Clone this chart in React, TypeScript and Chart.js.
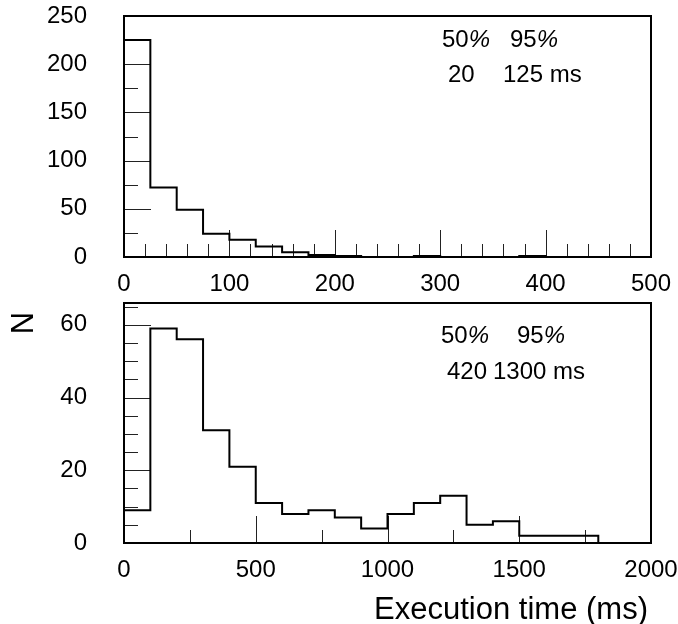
import { useEffect, useRef } from "react";
import { Chart, registerables } from "chart.js";

Chart.register(...registerables);

// ---- data ----
const topBinWidth = 25;
const topCounts = [225, 72, 49, 24, 18, 11, 5, 2, 1, 0, 0, 1, 0, 0, 0, 1, 0, 0, 0, 0];
const bottomBinWidth = 100;
const bottomCounts = [9, 59, 56, 31, 21, 11, 8, 9, 7, 4, 8, 11, 13, 5, 6, 2, 2, 2, 0, 0];

const topXTicks = [0, 100, 200, 300, 400, 500];
const topYTicks = [0, 50, 100, 150, 200, 250];
const bottomXTicks = [0, 500, 1000, 1500, 2000];
const bottomYTicks = [0, 20, 40, 60];

const quantileHeaders = ["50", "95"];
const topQuantiles = ["20", "125 ms"];
const bottomQuantiles = ["420", "1300 ms"];

const xTitle = "Execution time (ms)";
const yTitle = "N";

const FAMILY = "'Liberation Sans', Arial, Helvetica, sans-serif";
const tickFont = { family: FAMILY, size: 24 };

function histPoints(counts: number[], w: number) {
  const pts: { x: number; y: number }[] = [{ x: 0, y: 0 }];
  counts.forEach((c, i) => pts.push({ x: i * w, y: c }));
  pts.push({ x: counts.length * w, y: 0 });
  return pts;
}

type PanelCfg = {
  xMinor: number;
  xMajor: number;
  yMinor: number;
  yMajor: number;
  headers: string[];
  values: string[];
  hx: number[];
  vx: number[];
  hy: number;
  vy: number;
  extra?: (chart: any) => void;
};

function drawPercent(ctx: CanvasRenderingContext2D, x: number, y: number, num: string) {
  ctx.font = `24px ${FAMILY}`;
  ctx.fillText(num, x, y);
  const w = ctx.measureText(num).width;
  ctx.font = `italic 24px ${FAMILY}`;
  ctx.fillText("%", x + w, y);
}

function panelPlugin(cfg: PanelCfg) {
  return {
    id: "panel",
    beforeDatasetsDraw(chart: any) {
      const { ctx, chartArea: a, scales } = chart;
      const x = scales.x;
      const y = scales.y;
      ctx.save();
      ctx.strokeStyle = "#222";
      ctx.lineWidth = 1;
      const nx = Math.round((x.max - x.min) / cfg.xMinor);
      for (let i = 1; i < nx; i++) {
        const v = x.min + i * cfg.xMinor;
        const major = Math.abs(v / cfg.xMajor - Math.round(v / cfg.xMajor)) < 1e-6;
        const px = Math.round(x.getPixelForValue(v)) + 0.5;
        const len = major ? 27 : 13;
        ctx.beginPath();
        ctx.moveTo(px, a.bottom);
        ctx.lineTo(px, a.bottom - len);
        ctx.stroke();
      }
      const ny = Math.floor((y.max - y.min) / cfg.yMinor + 1e-6);
      for (let i = 1; i <= ny; i++) {
        const v = y.min + i * cfg.yMinor;
        if (v >= y.max - 1e-6) continue;
        const major = Math.abs(v / cfg.yMajor - Math.round(v / cfg.yMajor)) < 1e-6;
        const py = Math.round(y.getPixelForValue(v)) + 0.5;
        const len = major ? 27 : 14;
        ctx.beginPath();
        ctx.moveTo(a.left, py);
        ctx.lineTo(a.left + len, py);
        ctx.stroke();
      }
      ctx.restore();
    },
    afterDatasetsDraw(chart: any) {
      const { ctx, chartArea: a } = chart;
      ctx.save();
      ctx.strokeStyle = "#000";
      ctx.lineWidth = 2;
      ctx.strokeRect(a.left, a.top, a.right - a.left, a.bottom - a.top);
      ctx.fillStyle = "#000";
      ctx.textAlign = "left";
      ctx.textBaseline = "alphabetic";
      cfg.headers.forEach((h, i) => drawPercent(ctx, a.left + cfg.hx[i], a.top + cfg.hy, h));
      ctx.font = `24px ${FAMILY}`;
      cfg.values.forEach((v, i) => ctx.fillText(v, a.left + cfg.vx[i], a.top + cfg.vy));
      if (cfg.extra) cfg.extra(chart);
      ctx.restore();
    },
  };
}

function fixedTicks(values: number[]) {
  return (scale: any) => {
    scale.ticks = values.map((v) => ({ value: v }));
  };
}

function zeroPad(s: any) {
  s.paddingTop = 0;
  s.paddingBottom = 0;
  s.paddingLeft = 0;
  s.paddingRight = 0;
}

function makeChart(
  canvas: HTMLCanvasElement,
  counts: number[],
  binWidth: number,
  xMax: number,
  yMax: number,
  xTicks: number[],
  yTicks: number[],
  padTop: number,
  xAxisHeight: number,
  cfg: PanelCfg
) {
  return new Chart(canvas, {
    type: "line",
    data: {
      datasets: [
        {
          data: histPoints(counts, binWidth),
          stepped: "before",
          borderColor: "#000",
          borderWidth: 2,
          pointRadius: 0,
          fill: false,
        },
      ],
    },
    options: {
      animation: false,
      responsive: false,
      devicePixelRatio: 1,
      layout: { padding: { top: padTop, right: 27, left: 0, bottom: 0 } },
      plugins: { legend: { display: false }, tooltip: { enabled: false } },
      scales: {
        x: {
          type: "linear",
          min: 0,
          max: xMax,
          afterBuildTicks: fixedTicks(xTicks),
          afterFit: (s: any) => {
            s.height = xAxisHeight;
            zeroPad(s);
          },
          grid: { display: false, drawTicks: false },
          border: { display: false },
          ticks: {
            font: tickFont,
            color: "#000",
            padding: 13,
            maxRotation: 0,
            autoSkip: false,
            callback: (v: any) => String(v),
          },
        },
        y: {
          type: "linear",
          min: 0,
          max: yMax,
          afterBuildTicks: fixedTicks(yTicks),
          afterFit: (s: any) => {
            s.width = 124;
            zeroPad(s);
          },
          grid: { display: false, drawTicks: false },
          border: { display: false },
          ticks: {
            font: tickFont,
            color: "#000",
            padding: 37,
            autoSkip: false,
            callback: (v: any) => String(v),
          },
        },
      },
    },
    plugins: [panelPlugin(cfg)],
  } as any);
}

export default function App() {
  const topRef = useRef<HTMLCanvasElement>(null);
  const botRef = useRef<HTMLCanvasElement>(null);

  useEffect(() => {
    const c1 = makeChart(topRef.current!, topCounts, topBinWidth, 500, 250, topXTicks, topYTicks, 16, 43, {
      xMinor: 20,
      xMajor: 100,
      yMinor: 25,
      yMajor: 50,
      headers: quantileHeaders,
      values: topQuantiles,
      hx: [318, 386],
      vx: [324, 379],
      hy: 31,
      vy: 66,
    });
    const c2 = makeChart(botRef.current!, bottomCounts, bottomBinWidth, 2000, 66, bottomXTicks, bottomYTicks, 13, 81, {
      xMinor: 250,
      xMajor: 500,
      yMinor: 5,
      yMajor: 20,
      headers: quantileHeaders,
      values: bottomQuantiles,
      hx: [317, 393],
      vx: [323, 369],
      hy: 40,
      vy: 76,
      extra: (chart: any) => {
        const { ctx, chartArea: a } = chart;
        ctx.font = `31px ${FAMILY}`;
        ctx.textAlign = "right";
        ctx.textBaseline = "alphabetic";
        ctx.fillText(xTitle, a.right - 3, 329);
        ctx.save();
        ctx.translate(33, 33);
        ctx.rotate(-Math.PI / 2);
        ctx.textAlign = "center";
        ctx.fillText(yTitle, 0, 0);
        ctx.restore();
      },
    });
    return () => {
      c1.destroy();
      c2.destroy();
    };
  }, []);

  return (
    <div style={{ position: "fixed", left: 0, top: 0, width: 678, height: 624, background: "#fff" }}>
      <canvas ref={topRef} width={678} height={300} style={{ position: "absolute", left: 0, top: 0 }} />
      <canvas ref={botRef} width={678} height={334} style={{ position: "absolute", left: 0, top: 290 }} />
    </div>
  );
}
